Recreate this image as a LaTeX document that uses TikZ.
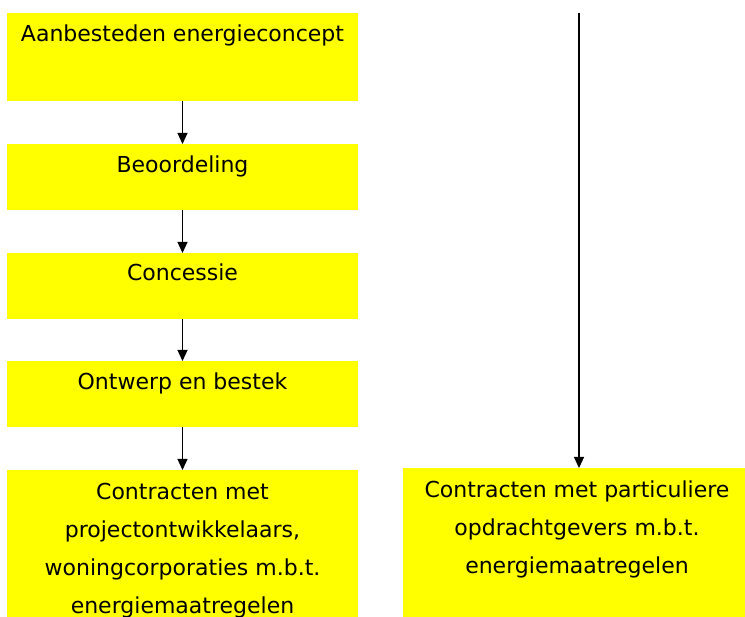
\documentclass[tikz,border=0pt]{standalone}
\usepackage{fontspec}
\setmainfont{DejaVu Sans}
\usetikzlibrary{calc,arrows.meta}
\definecolor{geel}{RGB}{255,255,0}

\tikzset{
  blok/.style={fill=geel, minimum width=351pt, minimum height=66pt, inner sep=0pt, anchor=north},
  pijl/.style={-{Triangle[length=11pt,width=10pt]}, line width=1.2pt},
  tekst/.style={align=center, anchor=base, inner sep=0pt, font=\fontsize{22}{37.7}\selectfont}
}

\begin{document}
\begin{tikzpicture}[x=1pt,y=-1pt]
  \useasboundingbox (0,0) rectangle (745,617);
  \node[blok, minimum height=88pt] (aanb) at (182.5,13) {};
  \node[blok] (beoo) at ($(aanb.north) + (0,131)$) {};
  \node[blok] (conc) at ($(beoo.north) + (0,109)$) {};
  \node[blok] (ontw) at ($(conc.north) + (0,108)$) {};
  \node[blok, minimum height=147pt] (contr1) at ($(ontw.north) + (0,109)$) {};
  \node[blok, minimum width=342pt, minimum height=149pt] (contr2) at (574,468) {};
  % tekst: anchor base = laatste regel
  \node[tekst] (t-aanb) at ($(aanb.north) + (0,29)$) {Aanbesteden energieconcept};
  \node[tekst] (t-beoo) at ($(beoo.north) + (0,29)$) {Beoordeling};
  \node[tekst] (t-conc) at ($(conc.north) + (0,28)$) {Concessie};
  \node[tekst] (t-ontw) at ($(ontw.north) + (0,29)$) {Ontwerp en bestek};
  \node[tekst] (t-contr1) at ($(contr1.north) + (0,143)$) {Contracten met\\projectontwikkelaars,\\woningcorporaties m.b.t.\\energiemaatregelen};
  \node[tekst] (t-contr2) at ($(contr2.north) + (3,105)$) {Contracten met particuliere\\opdrachtgevers m.b.t.\\energiemaatregelen};
  \coordinate (boven) at (579,13);
  \draw[pijl] (aanb) -- (beoo);
  \draw[pijl] (beoo) -- (conc);
  \draw[pijl] (conc) -- (ontw);
  \draw[pijl] (ontw) -- (contr1);
  \draw[pijl] (boven) -- (boven |- contr2.north);
\end{tikzpicture}
\end{document}
